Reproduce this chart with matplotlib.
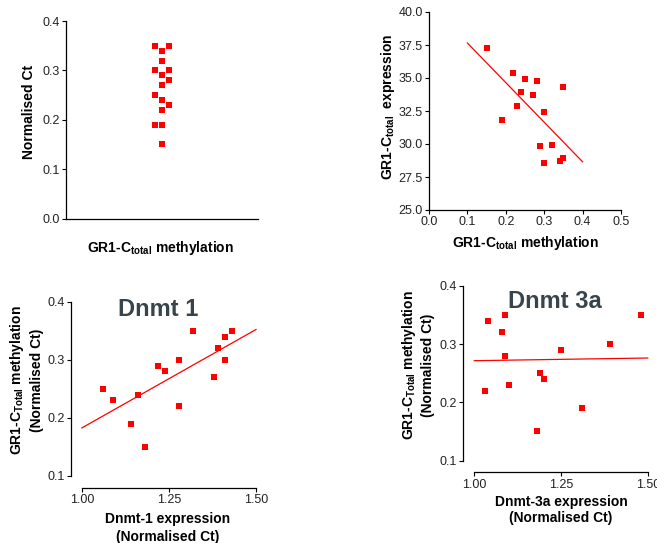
import numpy as np
import matplotlib
matplotlib.use("Agg")
import matplotlib.pyplot as plt
from matplotlib.ticker import FormatStrFormatter

plt.rcParams['font.family'] = ['Liberation Sans', 'DejaVu Sans']
plt.rcParams['mathtext.fontset'] = 'custom'
plt.rcParams['mathtext.rm'] = 'Liberation Sans'
plt.rcParams['mathtext.bf'] = 'Liberation Sans:bold'
plt.rcParams['mathtext.it'] = 'Liberation Sans:italic'

# ---------------- data ----------------
# Panel A: column scatter of normalised Ct (column: -1 left, 0 centre, 1 right)
colA_pos = [-1, -1, -1, -1, 0, 0, 0, 0, 0, 0, 0, 0, 1, 1, 1, 1]
colA_val = [0.35, 0.30, 0.25, 0.19, 0.34, 0.32, 0.29, 0.27, 0.24, 0.22, 0.19, 0.15,
            0.35, 0.30, 0.28, 0.23]

# Panel B: methylation vs expression
methB = [0.15, 0.22, 0.25, 0.28, 0.35, 0.24, 0.27, 0.23, 0.30, 0.19, 0.29, 0.32, 0.35, 0.34, 0.30]
exprB = [37.3, 35.4, 34.95, 34.75, 34.35, 33.95, 33.7, 32.85, 32.4, 31.8, 29.85, 29.9, 28.97, 28.75, 28.55]
fitB_x = [0.1, 0.4]
fitB_y = [37.65, 28.65]

# Panel C: Dnmt-1 expression vs methylation
dnmt1_x = [1.06, 1.09, 1.14, 1.16, 1.18, 1.22, 1.24, 1.28, 1.28, 1.32, 1.38, 1.39, 1.41, 1.41, 1.43]
dnmt1_y = [0.25, 0.23, 0.19, 0.24, 0.15, 0.29, 0.28, 0.30, 0.22, 0.35, 0.27, 0.32, 0.34, 0.30, 0.35]
fitC_x = [1.0, 1.5]
fitC_y = [0.1825, 0.3525]

# Panel D: Dnmt-3a expression vs methylation
dnmt3a_x = [1.03, 1.04, 1.08, 1.09, 1.09, 1.10, 1.18, 1.19, 1.20, 1.25, 1.31, 1.39, 1.48]
dnmt3a_y = [0.22, 0.34, 0.32, 0.35, 0.28, 0.23, 0.15, 0.25, 0.24, 0.29, 0.19, 0.30, 0.35]
fitD_x = [1.0, 1.5]
fitD_y = [0.2714, 0.276]

# ---------------- figure ----------------
W, H = 657, 543
fig = plt.figure(figsize=(W / 100, H / 100), dpi=100)

def ax_px(left, top, right, bottom):
    return fig.add_axes([left / W, 1 - bottom / H, (right - left) / W, (bottom - top) / H])

def txt(x, y, s, **kw):
    fig.text(x / W, 1 - y / H, s, ha='center', va='center', **kw)

RED = '#ff0000'
MS = 4.2
TICKFS = 9
LABFS = 10
TICKCOL = '#222222'

def style(ax):
    for s in ('top', 'right'):
        ax.spines[s].set_visible(False)
    for s in ('left', 'bottom'):
        ax.spines[s].set_linewidth(0.9)
    ax.tick_params(direction='out', length=3, width=0.8, labelsize=TICKFS,
                   labelcolor=TICKCOL, pad=1.5)
    ax.patch.set_alpha(0)

# Panel A
ax1 = ax_px(66, 21, 258, 218.5)
style(ax1)
ax1.plot(colA_pos, colA_val, 's', color=RED, ms=MS, mew=0, clip_on=False)
ax1.set_xlim(-13.7, 13.7)
ax1.set_ylim(0, 0.4)
ax1.set_yticks([0.0, 0.1, 0.2, 0.3, 0.4])
ax1.yaxis.set_major_formatter(FormatStrFormatter('%.1f'))
ax1.set_xticks([])
txt(29, 112, 'Normalised Ct', rotation=90, fontsize=LABFS, fontweight='bold')
txt(161, 248, r'GR1-C$_{\mathbf{total}}$ methylation', fontsize=LABFS, fontweight='bold')

# Panel B
ax2 = ax_px(429, 12, 621, 210)
style(ax2)
ax2.plot(methB, exprB, 's', color=RED, ms=MS, mew=0, clip_on=False)
ax2.plot(fitB_x, fitB_y, '-', color=RED, lw=0.9)
ax2.set_xlim(0, 0.5)
ax2.set_ylim(25, 40)
ax2.set_xticks(np.arange(0, 0.51, 0.1))
ax2.set_yticks(np.arange(25, 40.1, 2.5))
ax2.xaxis.set_major_formatter(FormatStrFormatter('%.1f'))
ax2.yaxis.set_major_formatter(FormatStrFormatter('%.1f'))
txt(388, 107, r'GR1-C$_{\mathbf{total}}$  expression', rotation=90, fontsize=LABFS, fontweight='bold')
txt(526, 243, r'GR1-C$_{\mathbf{total}}$ methylation', fontsize=LABFS, fontweight='bold')

# Panel C
ax3 = ax_px(70.7, 302, 256, 487.7)
style(ax3)
ax3.plot(dnmt1_x, dnmt1_y, 's', color=RED, ms=MS, mew=0, clip_on=False)
ax3.plot(fitC_x, fitC_y, '-', color=RED, lw=0.9, clip_on=False)
ax3.set_xlim(0.968, 1.5)
ax3.set_ylim(0.0793, 0.4)
ax3.spines['left'].set_bounds(0.1, 0.4)
ax3.spines['bottom'].set_bounds(1.0, 1.5)
ax3.set_xticks([1.0, 1.25, 1.5])
ax3.set_yticks([0.1, 0.2, 0.3, 0.4])
ax3.xaxis.set_major_formatter(FormatStrFormatter('%.2f'))
ax3.yaxis.set_major_formatter(FormatStrFormatter('%.1f'))
txt(158, 310, 'Dnmt 1', fontsize=17, fontweight='bold', color='#38444c')
txt(17, 380, r'GR1-C$_{\mathbf{Total}}$ methylation', rotation=90, fontsize=LABFS, fontweight='bold')
txt(37, 380, '(Normalised Ct)', rotation=90, fontsize=LABFS, fontweight='bold')
txt(168, 519, 'Dnmt-1 expression', fontsize=LABFS, fontweight='bold')
txt(168, 537, '(Normalised Ct)', fontsize=LABFS, fontweight='bold')

# Panel D
ax4 = ax_px(462.7, 285.7, 647.7, 472.3)
style(ax4)
ax4.plot(dnmt3a_x, dnmt3a_y, 's', color=RED, ms=MS, mew=0, clip_on=False)
ax4.plot(fitD_x, fitD_y, '-', color=RED, lw=0.9, clip_on=False)
ax4.set_xlim(0.9666, 1.5)
ax4.set_ylim(0.080, 0.4)
ax4.spines['left'].set_bounds(0.1, 0.4)
ax4.spines['bottom'].set_bounds(1.0, 1.5)
ax4.set_xticks([1.0, 1.25, 1.5])
ax4.set_yticks([0.1, 0.2, 0.3, 0.4])
ax4.xaxis.set_major_formatter(FormatStrFormatter('%.2f'))
ax4.yaxis.set_major_formatter(FormatStrFormatter('%.1f'))
txt(555, 302, 'Dnmt 3a', fontsize=17, fontweight='bold', color='#38444c')
txt(409, 365, r'GR1-C$_{\mathbf{Total}}$ methylation', rotation=90, fontsize=LABFS, fontweight='bold')
txt(428, 365, '(Normalised Ct)', rotation=90, fontsize=LABFS, fontweight='bold')
txt(561, 502, 'Dnmt-3a expression', fontsize=LABFS, fontweight='bold')
txt(561, 518, '(Normalised Ct)', fontsize=LABFS, fontweight='bold')

fig.savefig('out.png', dpi=100)
